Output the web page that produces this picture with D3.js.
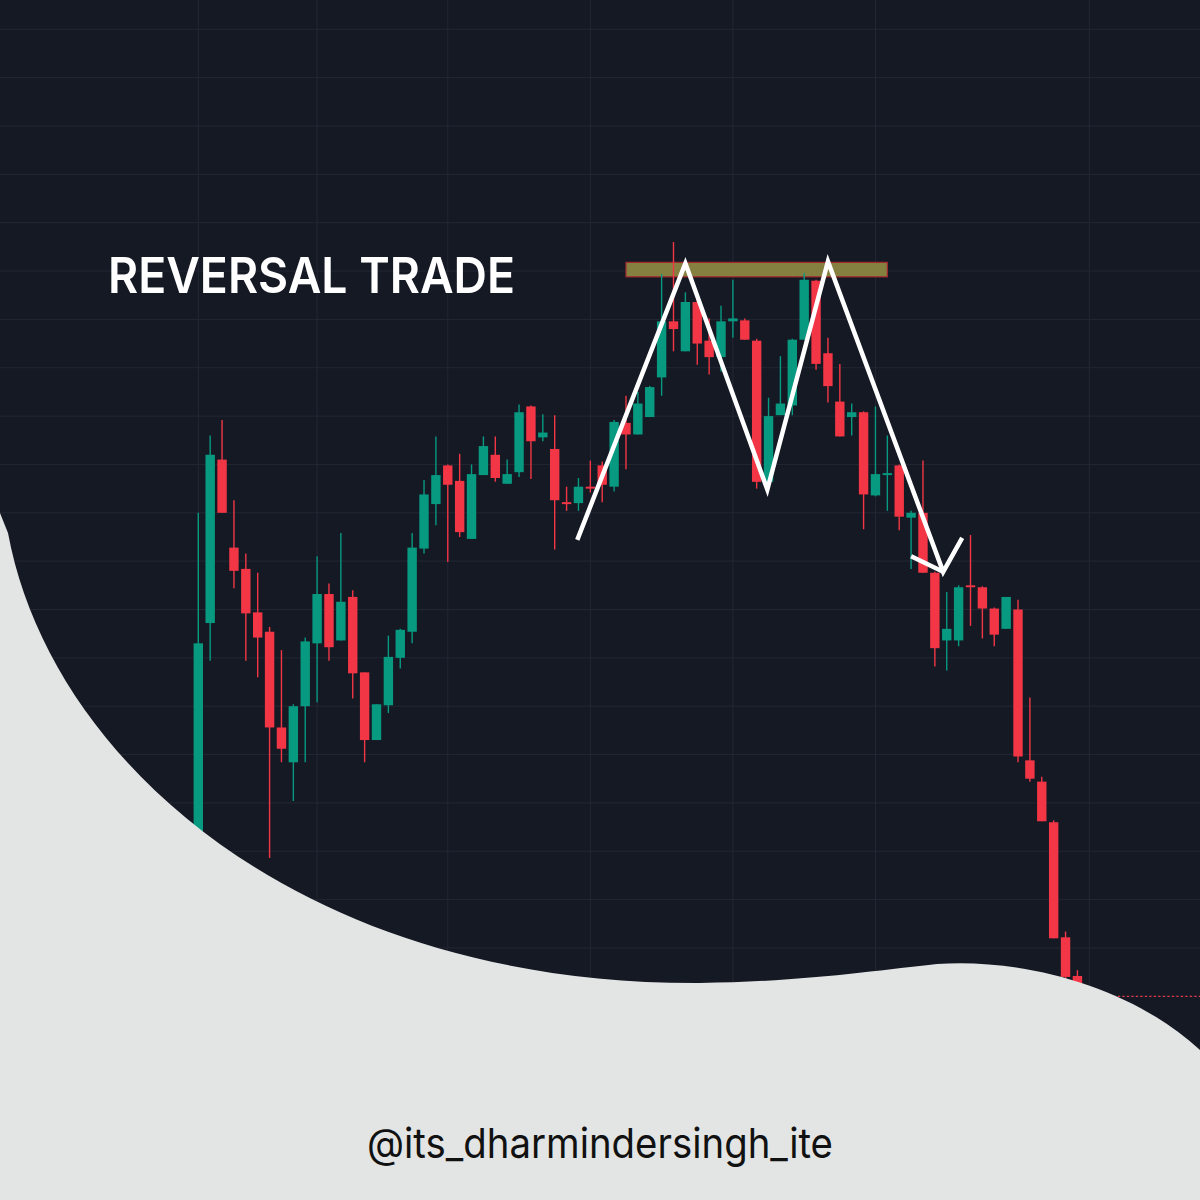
<!DOCTYPE html>
<html>
<head>
<meta charset="utf-8">
<script src="https://cdn.jsdelivr.net/npm/d3@7"></script>
<style>
  body { margin: 0; background: #e3e5e4; }
  svg { display: block; }
</style>
</head>
<body>
<svg width="1200" height="1200"></svg>
<script>
// candle values, one entry per bar (left to right)
var opens = [19370, 19636, 19805, 19714, 19692, 19647, 19627, 19528, 19492, 19550,
  19615, 19666, 19618, 19663, 19585, 19515, 19551, 19600, 19627, 19713,
  19759, 19799, 19783, 19723, 19789, 19810, 19780, 19792, 19860, 19828,
  19816, 19761, 19760, 19777, 19799, 19777, 19843, 19831, 19849, 19890,
  19948, 19917, 19968, 19928, 19911, 19948, 19949, 19928, 19782, 19851,
  19861, 19929, 19990, 19915, 19865, 19849, 19854, 19768, 19789, 19799,
  19745, 19750, 19688, 19618, 19618, 19675, 19673, 19651, 19630, 19650,
  19494, 19472, 19430, 19311, 19271];
var highs = [19750, 19830, 19846, 19763, 19708, 19688, 19632, 19608, 19552, 19621,
  19705, 19677, 19729, 19670, 19585, 19552, 19623, 19630, 19729, 19784,
  19829, 19800, 19811, 19800, 19829, 19829, 19805, 19862, 19861, 19852,
  19851, 19777, 19786, 19804, 19803, 19846, 19871, 19875, 19881, 19997,
  20030, 19978, 19970, 19951, 19964, 19991, 19951, 19930, 19869, 19912,
  19930, 19998, 19991, 19931, 19904, 19863, 19855, 19860, 19830, 19800,
  19752, 19804, 19689, 19668, 19675, 19727, 19674, 19652, 19663, 19660,
  19559, 19477, 19432, 19317, 19277];
var lows = [19355, 19597, 19750, 19672, 19597, 19580, 19393, 19492, 19452, 19492,
  19554, 19597, 19618, 19558, 19492, 19515, 19543, 19589, 19615, 19708,
  19737, 19699, 19725, 19723, 19789, 19782, 19780, 19787, 19785, 19824,
  19712, 19752, 19752, 19771, 19761, 19772, 19795, 19831, 19849, 19871,
  19917, 19917, 19903, 19893, 19896, 19931, 19929, 19775, 19779, 19851,
  19851, 19929, 19898, 19864, 19829, 19830, 19733, 19767, 19752, 19732,
  19692, 19688, 19591, 19587, 19612, 19633, 19620, 19612, 19630, 19492,
  19472, 19431, 19310, 19266, 19246];
var closes = [19615, 19810, 19750, 19690, 19646, 19621, 19528, 19506, 19550, 19617,
  19666, 19611, 19658, 19584, 19515, 19552, 19601, 19629, 19714, 19769,
  19789, 19779, 19730, 19790, 19819, 19786, 19790, 19854, 19824, 19833,
  19763, 19759, 19777, 19775, 19779, 19844, 19831, 19863, 19880, 19948,
  19940, 19968, 19925, 19911, 19948, 19951, 19929, 19782, 19850, 19863,
  19929, 19991, 19904, 19881, 19829, 19854, 19769, 19790, 19791, 19746,
  19750, 19688, 19610, 19630, 19673, 19673, 19651, 19624, 19663, 19498,
  19475, 19431, 19310, 19270, 19250];

// bar index of the vertical (time) grid lines
var timeGrid = [0, 10, 21, 33, 45, 57, 75];

// drawn annotations, in bar index / price
var zigIdx = [31.9, 41.0, 47.9, 53.0, 62.7, 64.3];
var zigPrice = [19722, 20008, 19774, 20010, 19689, 19724];
var tickIdx = [60.0, 62.7];
var tickPrice = [19705, 19689];
var zoneIdx = [36, 58];
var zonePrice = [20009, 19994];

var W = 1200, H = 1200;
var svg = d3.select("svg");

var x = d3.scaleLinear().domain([0, 75]).range([198.3, 1089.3]),
    y = d3.scaleLinear().domain([20250, 19250]).range([29.3, 996.3]);

var candles = opens.map(function(o, i) {
  return {i: i, o: o, h: highs[i], l: lows[i], c: closes[i]};
});

var green = "#089981", red = "#f23645";

svg.append("rect").attr("width", W).attr("height", H).attr("fill", "#151924");

// grid
var grid = svg.append("g").attr("stroke", "#232734").attr("stroke-width", 1);
grid.selectAll(".hl")
  .data(y.ticks(20))
  .enter().append("line")
    .attr("x1", 0).attr("x2", W)
    .attr("y1", function(d) { return y(d); })
    .attr("y2", function(d) { return y(d); });
grid.selectAll(".vl")
  .data(timeGrid)
  .enter().append("line")
    .attr("y1", 0).attr("y2", H)
    .attr("x1", function(d) { return x(d); })
    .attr("x2", function(d) { return x(d); });

// last price line
var last = candles[candles.length - 1];
svg.append("line")
  .attr("x1", x(last.i)).attr("x2", W)
  .attr("y1", y(last.c)).attr("y2", y(last.c))
  .attr("stroke", red).attr("stroke-width", 1.3)
  .attr("stroke-dasharray", "2,2.5");

// resistance zone
svg.append("rect")
  .attr("x", x(zoneIdx[0]))
  .attr("y", y(zonePrice[0]))
  .attr("width", x(zoneIdx[1]) - x(zoneIdx[0]))
  .attr("height", y(zonePrice[1]) - y(zonePrice[0]))
  .attr("fill", "#868040")
  .attr("stroke", "#a3282f")
  .attr("stroke-width", 1.2);

// candles
var bw = 9.4;
var cg = svg.append("g");
cg.selectAll(".wick")
  .data(candles)
  .enter().append("line")
    .attr("x1", function(d) { return x(d.i); })
    .attr("x2", function(d) { return x(d.i); })
    .attr("y1", function(d) { return y(d.h); })
    .attr("y2", function(d) { return y(d.l); })
    .attr("stroke", function(d) { return d.c >= d.o ? green : red; })
    .attr("stroke-width", 1.4);
cg.selectAll(".body")
  .data(candles)
  .enter().append("rect")
    .attr("x", function(d) { return x(d.i) - bw / 2; })
    .attr("y", function(d) { return y(Math.max(d.o, d.c)); })
    .attr("width", bw)
    .attr("height", function(d) { return Math.max(1.6, Math.abs(y(d.o) - y(d.c))); })
    .attr("fill", function(d) { return d.c >= d.o ? green : red; });

// white zigzag
var line = d3.line()
  .x(function(d) { return x(d[0]); })
  .y(function(d) { return y(d[1]); });
svg.append("path")
  .attr("d", line(zigIdx.map(function(v, i) { return [v, zigPrice[i]]; })))
  .attr("fill", "none").attr("stroke", "#ffffff")
  .attr("stroke-width", 4.5).attr("stroke-linejoin", "miter");
svg.append("path")
  .attr("d", line(tickIdx.map(function(v, i) { return [v, tickPrice[i]]; })))
  .attr("fill", "none").attr("stroke", "#ffffff")
  .attr("stroke-width", 4.5);

// light wave over the bottom
svg.append("path")
  .attr("d", "M0,513 L8,533 C50,760 300,985 700,983 C800,982 880,970 937,964 C1020,958 1130,985 1200,1050 L1200,1200 L0,1200 Z")
  .attr("fill", "#e3e5e4");

svg.append("text")
  .attr("x", 108).attr("y", 293)
  .attr("textLength", 407).attr("lengthAdjust", "spacingAndGlyphs")
  .style("font-family", "Inter, 'Open Sans', sans-serif")
  .style("font-weight", 600)
  .style("font-size", "50px")
  .attr("fill", "#ffffff")
  .text("REVERSAL TRADE");

svg.append("text")
  .attr("x", 367).attr("y", 1158)
  .attr("textLength", 466).attr("lengthAdjust", "spacingAndGlyphs")
  .style("font-family", "Inter, 'Open Sans', sans-serif")
  .style("font-weight", 400)
  .style("font-size", "41px")
  .attr("fill", "#111111")
  .text("@its_dharmindersingh_ite");
</script>
</body>
</html>
